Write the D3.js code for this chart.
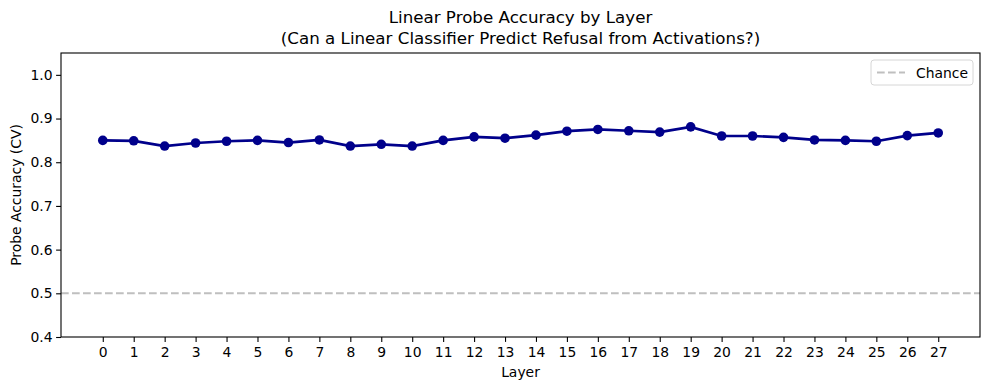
<!DOCTYPE html>
<html><head><meta charset="utf-8">
<script src="https://cdn.jsdelivr.net/npm/d3@7"></script>
<style>body{margin:0;background:#fff}text{font-family:"DejaVu Sans",sans-serif}</style>
</head><body><svg id="c" width="989" height="390"></svg>
<script>
const layers = d3.range(0, 28);
const accuracy = [0.850,0.849,0.837,0.844,0.848,0.850,0.845,0.851,0.837,0.841,
  0.837,0.850,0.858,0.855,0.862,0.871,0.875,0.872,0.869,0.881,
  0.860,0.860,0.857,0.851,0.850,0.848,0.861,0.867];
const chance = 0.5;
const yTicks = [0.4,0.5,0.6,0.7,0.8,0.9,1.0];
const titleLines = ["Linear Probe Accuracy by Layer","(Can a Linear Classifier Predict Refusal from Activations?)"];

const svg = d3.select("#c");
const L=61,R=980,T=53,B=337;
const x = d3.scaleLinear().domain([-1.35,28.35]).range([L,R]);
const y = d3.scaleLinear().domain([0.4,1.05]).range([B,T]);

// chance line
svg.append("line").attr("x1",L).attr("x2",R).attr("y1",y(chance)).attr("y2",y(chance))
  .attr("stroke","#bfbfbf").attr("stroke-width",2).attr("stroke-dasharray","7.7,3.3");

// line
svg.append("path").datum(accuracy)
  .attr("d", d3.line().x((d,i)=>x(layers[i])).y(d=>y(d)))
  .attr("fill","none").attr("stroke","#00008b").attr("stroke-width",2.7);
svg.selectAll("circle.p").data(accuracy).enter().append("circle")
  .attr("cx",(d,i)=>x(layers[i])).attr("cy",d=>y(d)).attr("r",4.8).attr("fill","#00008b");

// axes
const xa = svg.append("g").attr("transform",`translate(0,${B})`)
  .call(d3.axisBottom(x).tickValues(layers).tickFormat(d3.format("d")).tickSize(4.9).tickPadding(3.5).tickSizeOuter(0));
const ya = svg.append("g").attr("transform",`translate(${L},0)`)
  .call(d3.axisLeft(y).tickValues(yTicks).tickFormat(d3.format(".1f")).tickSize(4.9).tickPadding(3.5).tickSizeOuter(0));
[xa,ya].forEach(g=>{g.select(".domain").remove();g.selectAll("text").attr("font-size",13.9).attr("fill","#000").style("font-family","DejaVu Sans");g.selectAll("line").attr("stroke","#000").attr("stroke-width",1.1);});
xa.selectAll("text").attr("dy","0.85em");

svg.append("rect").attr("x",L).attr("y",T).attr("width",R-L).attr("height",B-T)
  .attr("fill","none").attr("stroke","#000").attr("stroke-width",1.1);

// labels
svg.append("text").attr("x",(L+R)/2).attr("y",377).attr("text-anchor","middle").attr("font-size",13.9).text("Layer");
svg.append("text").attr("transform",`translate(21,${(T+B)/2}) rotate(-90)`).attr("text-anchor","middle").attr("font-size",13.9).text("Probe Accuracy (CV)");
titleLines.forEach((t,i)=>svg.append("text").attr("x",(L+R)/2).attr("y",23+i*21).attr("text-anchor","middle").attr("font-size",16.7).text(t));

// legend
const lg = svg.append("g");
lg.append("rect").attr("x",871).attr("y",60).attr("width",102).attr("height",25).attr("rx",3)
  .attr("fill","#fff").attr("stroke","#d6d6d6").attr("stroke-width",1);
lg.append("line").attr("x1",877).attr("x2",905).attr("y1",72.5).attr("y2",72.5)
  .attr("stroke","#bfbfbf").attr("stroke-width",2).attr("stroke-dasharray","7.7,3.3");
lg.append("text").attr("x",916).attr("y",77.5).attr("font-size",13.9).text("Chance");
</script></body></html>
